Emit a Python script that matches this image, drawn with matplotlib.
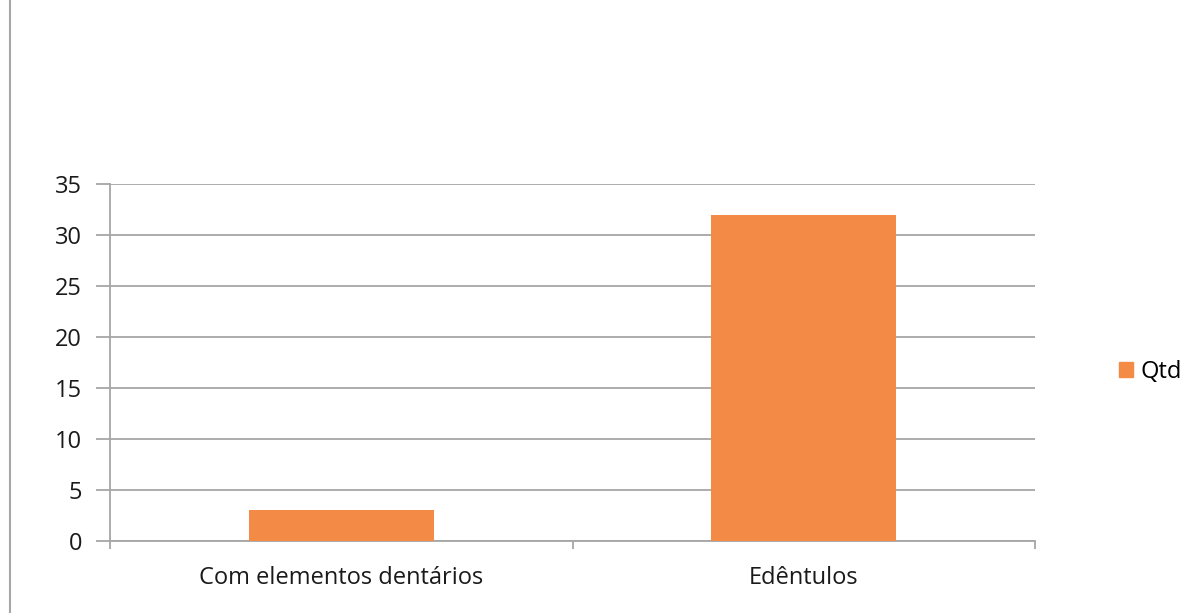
import matplotlib
matplotlib.use("Agg")
import matplotlib.pyplot as plt
from matplotlib.patches import Patch
from matplotlib.lines import Line2D

# dados
categorias = ["Com elementos dentários", "Edêntulos"]
qtd = [3, 32]
yticks = [0, 5, 10, 15, 20, 25, 30, 35]

cor_barra = "#F38A45"
cor_grade = "#A6A6A6"
cor_texto = "#1A1A1A"

plt.rcParams['font.family'] = ['Open Sans', 'DejaVu Sans']

fig = plt.figure(figsize=(11.94, 6.13), dpi=100)
ax = fig.add_axes([110 / 1194, 1 - 541 / 613, 925 / 1194, 357 / 613])

x = list(range(len(categorias)))
ax.bar(x, qtd, width=0.4, color=cor_barra, zorder=3)

ax.set_xlim(-0.5, len(categorias) - 0.5)
ax.set_ylim(0, 35)
ax.set_yticks(yticks)
ax.set_yticklabels([str(v) for v in yticks], fontsize=17, color=cor_texto)
ax.yaxis.grid(True, color=cor_grade, linewidth=1.3, zorder=0)

# eixo x: marcas entre as categorias, rótulos centrados
ax.set_xticks([-0.5, 0.5, 1.5])
ax.set_xticklabels([])
ax.set_xticks(x, minor=True)
ax.set_xticklabels(categorias, minor=True, fontsize=17, color=cor_texto)
ax.tick_params(axis="x", which="minor", length=0, pad=18)
ax.tick_params(axis="x", which="major", length=6, width=1.3, color=cor_grade, direction="out")
ax.tick_params(axis="y", length=10, width=1.3, color=cor_grade, pad=10)

for lado in ["top", "right"]:
    ax.spines[lado].set_visible(False)
for lado in ["left", "bottom"]:
    ax.spines[lado].set_color(cor_grade)
    ax.spines[lado].set_linewidth(1.3)

fig.legend(handles=[Patch(color=cor_barra, label="Qtd")],
           loc="center left", bbox_to_anchor=(1098 / 1194, 1 - 372 / 613),
           frameon=False, fontsize=17, handlelength=0.6, handleheight=0.6,
           handletextpad=0.3)

# linha de borda à esquerda
fig.add_artist(Line2D([10 / 1194, 10 / 1194], [0, 1], color=cor_grade, linewidth=1.5))

fig.savefig("out.png", dpi=100)
